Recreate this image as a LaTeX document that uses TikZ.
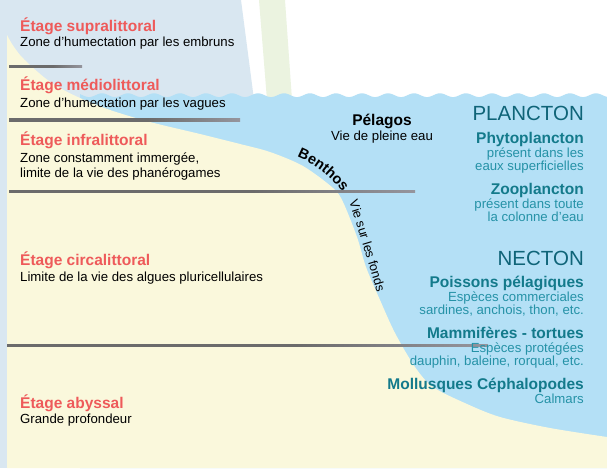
\documentclass[tikz,border=0pt]{standalone}
\usepackage{fontspec}
\setmainfont{Liberation Sans}
\usetikzlibrary{decorations.text}
\definecolor{skyblue}{HTML}{D9E7F1}
\definecolor{beamgreen}{HTML}{EBF3E0}
\definecolor{seablue}{HTML}{B4E0F6}
\definecolor{sand}{HTML}{FAF8DC}
\definecolor{etagered}{HTML}{EE5A5A}
\definecolor{tealdark}{HTML}{0F6478}
\definecolor{tealbold}{HTML}{137A8B}
\definecolor{teallight}{HTML}{2592A7}
\definecolor{linegrey}{HTML}{6B6B6B}
\definecolor{linelight}{HTML}{CACADC}
\pgfdeclarehorizontalshading{fadeline}{100bp}{color(0bp)=(linegrey); color(55bp)=(linegrey); color(100bp)=(linelight)}
\newcommand{\benthosfont}{\bfseries\fontsize{14.5}{16}\selectfont}
\newcommand{\fondsfont}{\fontsize{12.8}{14}\selectfont}
\tikzset{
    etage/.style={anchor=base west, inner sep=0pt, text=etagered, font=\bfseries\fontsize{15.5}{17}\selectfont},
    etagenote/.style={anchor=base west, inner sep=0pt, font=\fontsize{13.2}{15}\selectfont},
    groupe/.style={anchor=base east, inner sep=0pt, text=tealdark, font=\fontsize{20.5}{22}\selectfont},
    espece/.style={anchor=base east, inner sep=0pt, text=tealbold, font=\bfseries\fontsize{15.5}{17}\selectfont},
    especenote/.style={anchor=base east, inner sep=0pt, text=teallight, font=\fontsize{13.2}{15}\selectfont},
    milieu/.style={anchor=base, inner sep=0pt, font=\bfseries\fontsize{15.5}{17}\selectfont},
    milieunote/.style={anchor=base, inner sep=0pt, font=\fontsize{13.2}{15}\selectfont},
    limite/.style={shading=fadeline},
}
\begin{document}
\begin{tikzpicture}[x=1pt,y=-1pt]
    \useasboundingbox (0,0) rectangle (607,468);
    \fill[white] (0,0) rectangle (607,468);
    % sky and light beams
    \fill[skyblue] (0,0) -- (241,0) -- (256,115) -- (0,115) -- cycle;
    \fill[skyblue] (0,0) rectangle (7,468);
    \fill[beamgreen] (259,0) -- (285,0) -- (292,100) -- (267,100) -- cycle;
    % sea with waves
    \fill[seablue] plot[domain=80:607,samples=260] (\x,{95.2-1.9*cos(13.846*(\x-310))}) -- (607,468) -- (80,468) -- cycle;
    % sea floor
    \fill[sand] plot[smooth] coordinates {(7,35) (12,44) (20,55) (30,65) (45,78) (60,88) (80,98) (110,110) (150,122) (200,134) (240,144) (270,152) (303,166) (333,188) (343,202) (357,237) (366,267) (380,300) (395,333) (415,367) (433,387) (467,404) (500,417) (550,428) (607,437)} -- (607,468) -- (7,468) -- cycle;
    % limits between the zones
    \shade[limite] (9,66) rectangle (82,68);
    \shade[limite] (9,119) rectangle (240,121);
    \shade[limite] (9,190) rectangle (415,192);
    \shade[limite] (7,344) rectangle (488,346);
    % benthos along the floor
    \path[decorate, decoration={text along path, text={|\benthosfont|Benthos}, text align=left}]
        (297,157) .. controls (315,164) and (337,180) .. (350,204);
    \path[decorate, decoration={text along path, text={|\fondsfont|Vie sur les fonds}, text align=left}]
        (349,202) .. controls (358,228) and (368,262) .. (381,306);
    % zones
    \node[etage] (supra) at (20,32) {Étage supralittoral};
    \node[etagenote] (supranote) at (20,47) {Zone d’humectation par les embruns};
    \node[etage] (medio) at (20,91) {Étage médiolittoral};
    \node[etagenote] (medionote) at (20,107) {Zone d’humectation par les vagues};
    \node[etage] (infra) at (20,146) {Étage infralittoral};
    \node[etagenote] (infranote) at (20,162) {Zone constamment immergée,};
    \node[etagenote] (infranoteb) at (20,177) {limite de la vie des phanérogames};
    \node[etage] (circa) at (20,265) {Étage circalittoral};
    \node[etagenote] (circanote) at (20,281) {Limite de la vie des algues pluricellulaires};
    \node[etage] (abyss) at (20,408) {Étage abyssal};
    \node[etagenote] (abyssnote) at (20,423) {Grande profondeur};
    % open water
    \node[milieu] (pelagos) at (382,125) {Pélagos};
    \node[milieunote] (pelagosnote) at (382,140) {Vie de pleine eau};
    % plankton and nekton
    \node[groupe] (plancton) at (584,121) {PLANCTON};
    \node[espece] (phyto) at (584,143) {Phytoplancton};
    \node[especenote] (phytonote) at (584,157) {présent dans les};
    \node[especenote] (phytonoteb) at (584,170) {eaux superficielles};
    \node[espece] (zoo) at (584,194) {Zooplancton};
    \node[especenote] (zoonote) at (584,208) {présent dans toute};
    \node[especenote] (zoonoteb) at (584,221) {la colonne d’eau};
    \node[groupe] (necton) at (584,265) {NECTON};
    \node[espece] (poissons) at (584,287) {Poissons pélagiques};
    \node[especenote] (poissonsnote) at (584,301) {Espèces commerciales};
    \node[especenote] (poissonsnoteb) at (584,314) {sardines, anchois, thon, etc.};
    \node[espece] (mammi) at (584,338) {Mammifères - tortues};
    \node[especenote] (mamminote) at (584,352) {Espèces protégées};
    \node[especenote] (mamminoteb) at (584,365) {dauphin, baleine, rorqual, etc.};
    \node[espece] (mollu) at (584,389) {Mollusques Céphalopodes};
    \node[especenote] (mollunote) at (584,403) {Calmars};
\end{tikzpicture}
\end{document}
